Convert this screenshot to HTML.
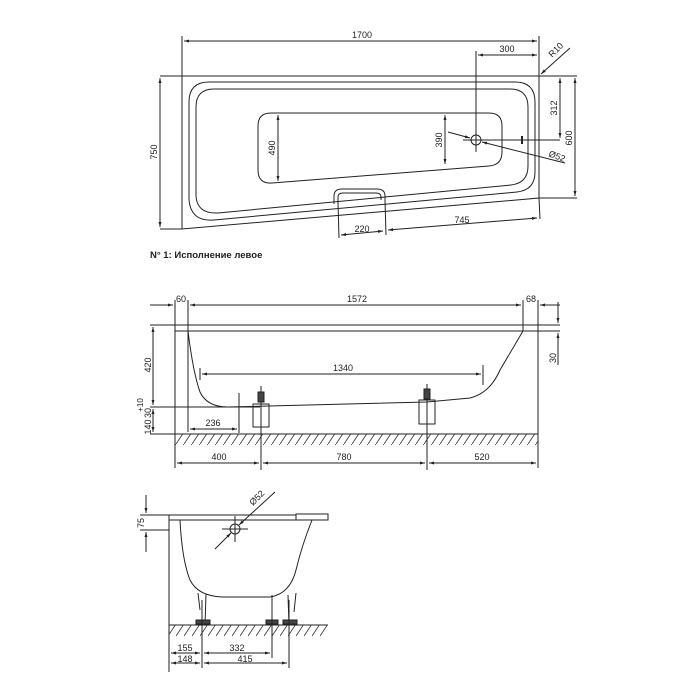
<!DOCTYPE html>
<html><head><meta charset="utf-8"><style>
html,body{margin:0;padding:0;background:#fff}
svg{display:block}
text{font-family:"Liberation Sans",Arial,sans-serif;font-size:9px;fill:#222}
</style></head><body>
<svg width="700" height="700" viewBox="0 0 700 700" xmlns="http://www.w3.org/2000/svg">
<defs>
<marker id="a" viewBox="0 0 10 10" refX="10" refY="5" markerWidth="7" markerHeight="5" orient="auto-start-reverse"><path d="M0,2 L10,5 L0,8z" fill="#222"/></marker>
<pattern id="h" width="8" height="12" patternUnits="userSpaceOnUse"><path d="M0,12 L8,0" stroke="#333" stroke-width="0.8"/></pattern>
</defs>
<g stroke="#222" stroke-width="1" fill="none">
<!-- TOP VIEW -->
<path d="M182,76 L539,76 L539,198 L182,229 Z"/>
<line x1="539" y1="76" x2="577" y2="76"/>
<line x1="539" y1="198" x2="577" y2="198"/>
<line x1="160" y1="76" x2="182" y2="76"/>
<line x1="160" y1="229" x2="182" y2="229"/>
<line x1="182" y1="36" x2="182" y2="76"/>
<line x1="539" y1="36" x2="539" y2="76"/>
<line x1="184" y1="41" x2="537" y2="41" marker-start="url(#a)" marker-end="url(#a)"/>
<line x1="160" y1="78" x2="160" y2="227" marker-start="url(#a)" marker-end="url(#a)"/>
<!-- outer rim -->
<path d="M209,82 L515,82 Q535,82 535,102 L535,172 Q535,190 517,192 L214,220 Q191,222 189,200 L189,102 Q189,82 209,82 Z"/>
<path d="M214,89 L510,89 Q528,89 528,107 L528,166 Q528,183 511,185 L218,213 Q197,214 196,196 L196,107 Q196,89 214,89 Z"/>
<!-- floor -->
<path d="M271,113 L489,113 Q502,113 502,126 L502,152 Q502,165 489,166 L272,183 Q258,184 258,170 L258,126 Q258,113 271,113 Z"/>
<!-- handle -->
<path d="M334,204 L334,196 Q334,189 342,189 L377,189 Q385,189 385,196 L385,200"/>
<path d="M338,203 L338,197 Q338,193 343,193 L376,193 Q381,193 381,197 L381,200"/>
<!-- drain -->
<circle cx="476" cy="140" r="5"/>
<line x1="476" y1="51" x2="476" y2="152"/>
<line x1="463" y1="140" x2="560" y2="140"/>
<line x1="522" y1="136" x2="522" y2="144" stroke-width="2"/>
<line x1="478" y1="55" x2="537" y2="55" marker-start="url(#a)" marker-end="url(#a)"/>
<line x1="560" y1="78" x2="560" y2="138" marker-start="url(#a)" marker-end="url(#a)"/>
<line x1="575" y1="78" x2="575" y2="196" marker-start="url(#a)" marker-end="url(#a)"/>
<line x1="278" y1="115" x2="278" y2="181" marker-start="url(#a)" marker-end="url(#a)"/>
<line x1="445" y1="115" x2="445" y2="164" marker-start="url(#a)" marker-end="url(#a)"/>
<line x1="448" y1="132" x2="470" y2="138" marker-end="url(#a)"/>
<line x1="482" y1="142" x2="565" y2="163" marker-start="url(#a)"/>
<line x1="541" y1="74" x2="570" y2="48" marker-start="url(#a)"/>
<!-- 220 / 745 -->
<line x1="338" y1="203" x2="339" y2="238"/>
<line x1="385" y1="200" x2="386" y2="235"/>
<line x1="539" y1="198" x2="540" y2="219"/>
<line x1="341" y1="235" x2="383" y2="231" marker-start="url(#a)" marker-end="url(#a)"/>
<line x1="388" y1="230" x2="537" y2="218" marker-start="url(#a)" marker-end="url(#a)"/>

<!-- SIDE VIEW -->
<line x1="150" y1="305" x2="173" y2="305" marker-end="url(#a)"/>
<line x1="190" y1="305" x2="521" y2="305" marker-start="url(#a)" marker-end="url(#a)"/>
<line x1="540" y1="305" x2="560" y2="305" marker-start="url(#a)"/>
<line x1="175" y1="300" x2="175" y2="468"/>
<line x1="188" y1="300" x2="188" y2="432"/>
<line x1="523" y1="300" x2="523" y2="331"/>
<line x1="538" y1="300" x2="538" y2="468"/>
<line x1="175" y1="325" x2="560" y2="325"/>
<line x1="175" y1="331" x2="560" y2="331"/>
<line x1="150" y1="325" x2="175" y2="325"/>
<line x1="150" y1="434" x2="175" y2="434"/>
<line x1="150" y1="407" x2="260" y2="407"/>
<path d="M188,331 Q193,372 200,392 Q207,407 228,407 L427,402 L470,398 Q490,393 500,370 L523,331"/>
<line x1="153" y1="327" x2="153" y2="405" marker-start="url(#a)" marker-end="url(#a)"/>
<line x1="153" y1="409" x2="153" y2="432" marker-start="url(#a)" marker-end="url(#a)"/>
<line x1="558" y1="302" x2="558" y2="323" marker-end="url(#a)"/>
<line x1="558" y1="333" x2="558" y2="365" marker-start="url(#a)"/>
<line x1="200" y1="368" x2="200" y2="380"/>
<line x1="483" y1="365" x2="483" y2="385"/>
<line x1="202" y1="374" x2="481" y2="374" marker-start="url(#a)" marker-end="url(#a)"/>
<line x1="239" y1="393" x2="239" y2="433"/>
<line x1="190" y1="429" x2="237" y2="429" marker-start="url(#a)" marker-end="url(#a)"/>
<!-- feet -->
<rect x="253" y="404" width="16" height="23"/>
<rect x="419" y="400" width="16" height="24"/>
<line x1="261" y1="386" x2="261" y2="470"/>
<line x1="427" y1="384" x2="427" y2="470"/>
<rect x="258" y="392" width="6" height="10" fill="#444"/>
<rect x="424" y="389" width="6" height="10" fill="#444"/>
<rect x="175" y="434" width="363" height="11" fill="url(#h)" stroke="none"/>
<line x1="175" y1="434" x2="538" y2="434"/>
<line x1="177" y1="463" x2="259" y2="463" marker-start="url(#a)" marker-end="url(#a)"/>
<line x1="263" y1="463" x2="425" y2="463" marker-start="url(#a)" marker-end="url(#a)"/>
<line x1="429" y1="463" x2="536" y2="463" marker-start="url(#a)" marker-end="url(#a)"/>

<!-- END VIEW -->
<line x1="169" y1="515" x2="296" y2="515"/>
<line x1="169" y1="520" x2="296" y2="520"/>
<rect x="296" y="514" width="32" height="6"/>
<line x1="169" y1="515" x2="169" y2="672"/>
<line x1="140" y1="515" x2="169" y2="515"/>
<line x1="140" y1="530" x2="169" y2="530"/>
<line x1="146" y1="495" x2="146" y2="513" marker-end="url(#a)"/>
<line x1="146" y1="532" x2="146" y2="552" marker-start="url(#a)"/>
<path d="M180,520 Q182,560 190,580 Q198,596 222,597 L270,597 Q290,594 296,570 Q302,545 312,520"/>
<circle cx="235" cy="529" r="5"/>
<line x1="222" y1="529" x2="248" y2="529"/>
<line x1="235" y1="516" x2="235" y2="542"/>
<line x1="215" y1="549" x2="231" y2="533" marker-end="url(#a)"/>
<line x1="239" y1="525" x2="275" y2="492" marker-start="url(#a)"/>
<!-- legs -->
<path d="M198,593 L200,610 M206,594 L205,625 M272,595 L272,625 M288,595 L289,625 M296,593 L294,612"/>
<rect x="196" y="620" width="14" height="4" fill="#444"/>
<rect x="266" y="620" width="12" height="4" fill="#444"/>
<rect x="283" y="620" width="14" height="4" fill="#444"/>
<rect x="169" y="625" width="159" height="11" fill="url(#h)" stroke="none"/>
<line x1="169" y1="625" x2="328" y2="625"/>
<line x1="202" y1="600" x2="202" y2="668"/>
<line x1="272" y1="600" x2="272" y2="658"/>
<line x1="289" y1="600" x2="289" y2="668"/>
<line x1="171" y1="653" x2="200" y2="653" marker-start="url(#a)" marker-end="url(#a)"/>
<line x1="204" y1="653" x2="270" y2="653" marker-start="url(#a)" marker-end="url(#a)"/>
<line x1="171" y1="663" x2="200" y2="663" marker-start="url(#a)" marker-end="url(#a)"/>
<line x1="204" y1="663" x2="287" y2="663" marker-start="url(#a)" marker-end="url(#a)"/>
</g>
<g>
<text x="362" y="38" text-anchor="middle">1700</text>
<text x="507" y="52" text-anchor="middle">300</text>
<text transform="translate(558,52) rotate(-45)" text-anchor="middle">R10</text>
<text transform="translate(157,152) rotate(-90)" text-anchor="middle">750</text>
<text transform="translate(557,108) rotate(-90)" text-anchor="middle">312</text>
<text transform="translate(572,138) rotate(-90)" text-anchor="middle">600</text>
<text transform="translate(275,148) rotate(-90)" text-anchor="middle">490</text>
<text transform="translate(442,140) rotate(-90)" text-anchor="middle">390</text>
<text transform="translate(556,159) rotate(20)" text-anchor="middle">Ø52</text>
<text x="362" y="232" text-anchor="middle">220</text>
<text x="462" y="223" text-anchor="middle">745</text>
<text x="150" y="258" style="font-size:9.5px;font-weight:bold">N° 1: Исполнение левое</text>
<text x="181" y="302" text-anchor="middle">60</text>
<text x="357" y="302" text-anchor="middle">1572</text>
<text x="531" y="302" text-anchor="middle">68</text>
<text transform="translate(151,365) rotate(-90)" text-anchor="middle">420</text>
<text transform="translate(556,358) rotate(-90)" text-anchor="middle">30</text>
<text transform="translate(151,427) rotate(-90)" text-anchor="middle">140</text>
<text transform="translate(151,413) rotate(-90)" text-anchor="middle">30</text>
<text transform="translate(143,405) rotate(-90)" text-anchor="middle" style="font-size:8px">+10</text>
<text x="343" y="371" text-anchor="middle">1340</text>
<text x="213" y="426" text-anchor="middle">236</text>
<text x="219" y="460" text-anchor="middle">400</text>
<text x="344" y="460" text-anchor="middle">780</text>
<text x="482" y="460" text-anchor="middle">520</text>
<text transform="translate(144,523) rotate(-90)" text-anchor="middle">75</text>
<text transform="translate(259,500) rotate(-45)" text-anchor="middle">Ø52</text>
<text x="185" y="651" text-anchor="middle">155</text>
<text x="237" y="651" text-anchor="middle">332</text>
<text x="185" y="662" text-anchor="middle">148</text>
<text x="245" y="662" text-anchor="middle">415</text>
</g>
</svg>
</body></html>
